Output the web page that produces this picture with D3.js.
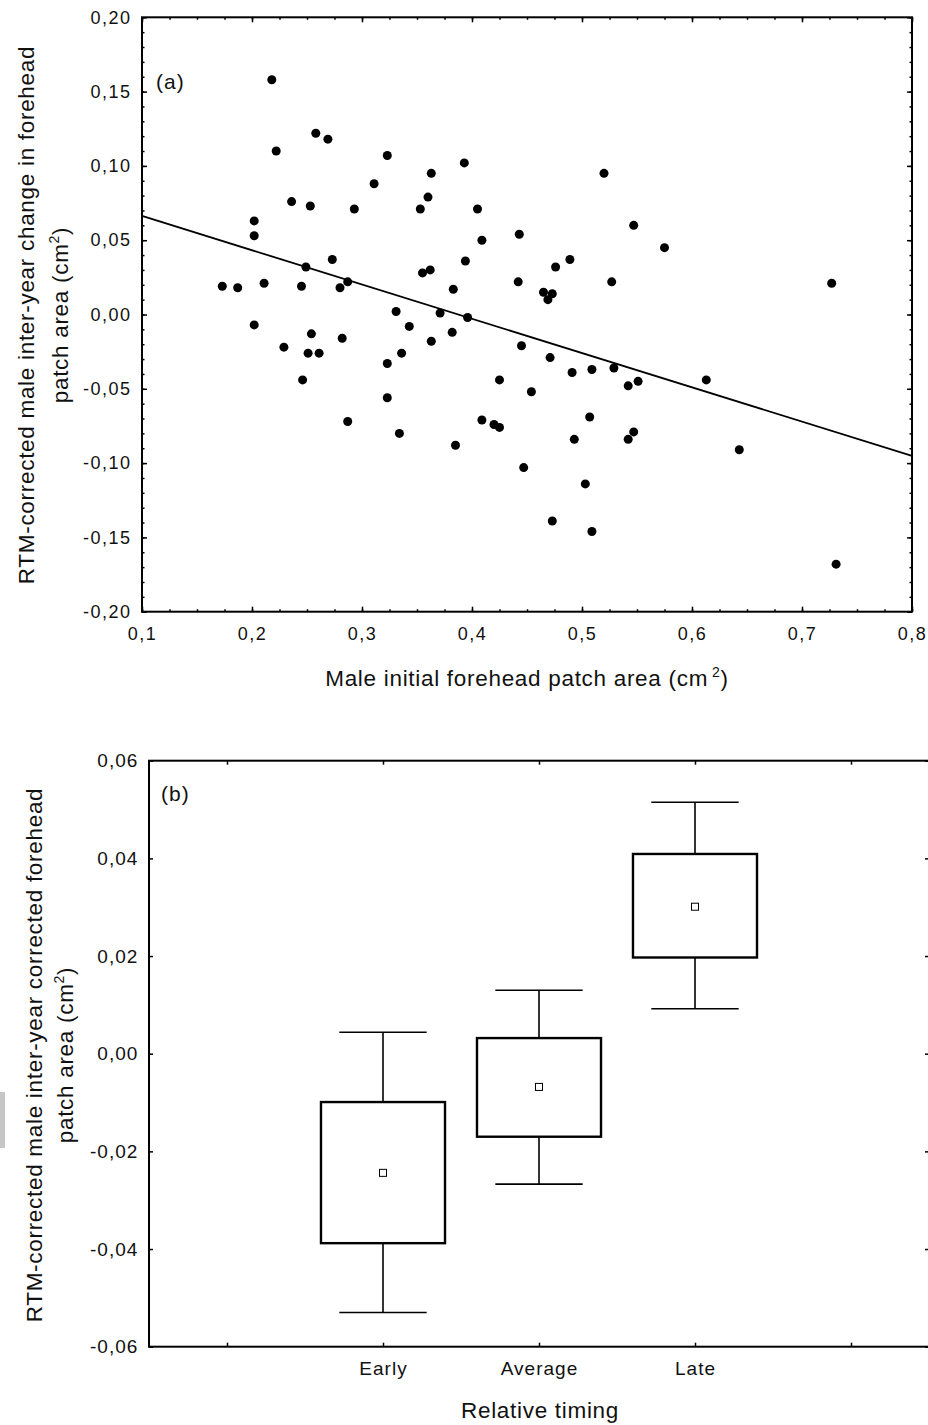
<!DOCTYPE html>
<html>
<head>
<meta charset="utf-8">
<script src="https://cdn.jsdelivr.net/npm/d3@7"></script>
<style>
  body { margin: 0; background: #fff; }
  svg { display: block; }
  text { font-family: "Liberation Sans", Arial, sans-serif; fill: #111; }
</style>
</head>
<body>
<div id="chart"></div>
<script>
// (a) initial forehead patch area vs RTM-corrected inter-year change
var patchArea = [
  0.218, 0.258, 0.222, 0.236, 0.253, 0.202, 0.202, 0.249, 0.173, 0.187,
  0.211, 0.245, 0.202, 0.254, 0.269, 0.323, 0.393, 0.363, 0.520, 0.311,
  0.360, 0.293, 0.353, 0.405, 0.409, 0.443, 0.273, 0.394, 0.489, 0.476,
  0.355, 0.362, 0.280, 0.287, 0.383, 0.442, 0.527, 0.465, 0.473, 0.469,
  0.331, 0.371, 0.396, 0.343, 0.382, 0.282, 0.363, 0.547, 0.575, 0.727,
  0.229, 0.251, 0.261, 0.246, 0.323, 0.336, 0.445, 0.471, 0.491, 0.509,
  0.529, 0.425, 0.454, 0.323, 0.287, 0.334, 0.409, 0.420, 0.425, 0.507,
  0.493, 0.385, 0.447, 0.503, 0.473, 0.509, 0.542, 0.551, 0.613, 0.547,
  0.542, 0.643, 0.731
];
var patchChange = [
  0.158, 0.122, 0.110, 0.076, 0.073, 0.063, 0.053, 0.032, 0.019, 0.018,
  0.021, 0.019, -0.007, -0.013, 0.118, 0.107, 0.102, 0.095, 0.095, 0.088,
  0.079, 0.071, 0.071, 0.071, 0.050, 0.054, 0.037, 0.036, 0.037, 0.032,
  0.028, 0.030, 0.018, 0.022, 0.017, 0.022, 0.022, 0.015, 0.014, 0.010,
  0.002, 0.001, -0.002, -0.008, -0.012, -0.016, -0.018, 0.060, 0.045, 0.021,
  -0.022, -0.026, -0.026, -0.044, -0.033, -0.026, -0.021, -0.029, -0.039, -0.037,
  -0.036, -0.044, -0.052, -0.056, -0.072, -0.080, -0.071, -0.074, -0.076, -0.069,
  -0.084, -0.088, -0.103, -0.114, -0.139, -0.146, -0.048, -0.045, -0.044, -0.079,
  -0.084, -0.091, -0.168
];
var fitIntercept = 0.0894;
var fitSlope = -0.2307;
var xTicksA = [0.1, 0.2, 0.3, 0.4, 0.5, 0.6, 0.7, 0.8];
var yTicksA = [-0.2, -0.15, -0.1, -0.05, 0, 0.05, 0.1, 0.15, 0.2];

// (b) relative timing groups
var timingLabels = ["", "Early", "Average", "Late", ""];
var groupSlot = [1, 2, 3];
var groupMean = [-0.0244, -0.0068, 0.0301];
var boxLow = [-0.0388, -0.0170, 0.0197];
var boxHigh = [-0.0099, 0.0032, 0.0409];
var whiskerLow = [-0.0530, -0.0267, 0.0092];
var whiskerHigh = [0.0044, 0.0130, 0.0515];
var yTicksB = [-0.06, -0.04, -0.02, 0, 0.02, 0.04, 0.06];

var locale = d3.formatLocale({ decimal: ",", thousands: ".", grouping: [3], currency: ["", ""], minus: "-" });
var fmt1 = locale.format(".1f");
var fmt2 = locale.format(".2f");

var svg = d3.select("#chart").append("svg")
  .attr("width", 928)
  .attr("height", 1425);

function styleAxis(g, size, spacing) {
  g.select(".domain").remove();
  g.selectAll("line").attr("stroke", "#000").attr("stroke-width", 1.5);
  g.selectAll("text")
    .style("font-size", size + "px")
    .style("letter-spacing", spacing + "px")
    .attr("fill", "#111");
}

// ---------- panel (a) ----------
var xA = d3.scaleLinear().domain([0.1, 0.8]).range([142, 912]);
var yA = d3.scaleLinear().domain([-0.2, 0.2]).range([611.7, 17.3]);
var minorX = d3.range(0.1, 0.8001, 0.025);
var minorY = d3.range(-0.2, 0.2001, 0.01);

svg.append("g").attr("transform", "translate(0,611.7)")
  .call(d3.axisBottom(xA).tickValues(minorX).tickSize(-2.5).tickFormat(""))
  .call(styleAxis, 16, 0);
svg.append("g").attr("transform", "translate(0,611.7)")
  .call(d3.axisBottom(xA).tickValues(xTicksA).tickSize(-5).tickPadding(15.5).tickFormat(fmt1))
  .call(styleAxis, 18, 1.5);
svg.append("g").attr("transform", "translate(0,17.3)")
  .call(d3.axisTop(xA).tickValues(minorX).tickSize(-2.5).tickFormat(""))
  .call(styleAxis, 16, 0);
svg.append("g").attr("transform", "translate(0,17.3)")
  .call(d3.axisTop(xA).tickValues(xTicksA).tickSize(-5).tickFormat(""))
  .call(styleAxis, 16, 0);

svg.append("g").attr("transform", "translate(142,0)")
  .call(d3.axisLeft(yA).tickValues(minorY).tickSize(-2.5).tickFormat(""))
  .call(styleAxis, 16, 0);
svg.append("g").attr("transform", "translate(142,0)")
  .call(d3.axisLeft(yA).tickValues(yTicksA).tickSize(-5).tickPadding(10.5).tickFormat(fmt2))
  .call(styleAxis, 18, 1.5);
svg.append("g").attr("transform", "translate(912,0)")
  .call(d3.axisRight(yA).tickValues(minorY).tickSize(-2.5).tickFormat(""))
  .call(styleAxis, 16, 0);
svg.append("g").attr("transform", "translate(912,0)")
  .call(d3.axisRight(yA).tickValues(yTicksA).tickSize(-5).tickFormat(""))
  .call(styleAxis, 16, 0);

svg.append("rect")
  .attr("x", xA(0.1)).attr("y", yA(0.2))
  .attr("width", xA(0.8) - xA(0.1)).attr("height", yA(-0.2) - yA(0.2))
  .attr("fill", "none").attr("stroke", "#000").attr("stroke-width", 2);

var fitLine = d3.line()
  .x(function (d) { return xA(d); })
  .y(function (d) { return yA(fitIntercept + fitSlope * d); });
svg.append("path")
  .datum(xA.domain())
  .attr("d", fitLine)
  .attr("fill", "none").attr("stroke", "#000").attr("stroke-width", 1.8);

svg.append("g").selectAll("circle")
  .data(patchArea)
  .enter().append("circle")
  .attr("cx", function (d) { return xA(d); })
  .attr("cy", function (d, i) { return yA(patchChange[i]); })
  .attr("r", 4.5)
  .attr("fill", "#000");

svg.append("text").attr("x", 156).attr("y", 89)
  .style("font-size", "21px").style("letter-spacing", "1px").text("(a)");

var titleA = svg.append("text")
  .attr("x", 527).attr("y", 686)
  .attr("text-anchor", "middle")
  .style("font-size", "22.5px").style("letter-spacing", "0.7px");
titleA.append("tspan").text("Male initial forehead patch area (cm");
titleA.append("tspan").attr("dx", 4).attr("dy", -9).style("font-size", "14px").text("2");
titleA.append("tspan").attr("dy", 9).text(")");

var yTitleA = svg.append("g").attr("transform", "translate(0,315) rotate(-90)");
yTitleA.append("text").attr("y", 34).attr("text-anchor", "middle")
  .style("font-size", "22.5px").style("letter-spacing", "0.7px")
  .text("RTM-corrected male inter-year change in forehead");
var yTitleA2 = yTitleA.append("text").attr("y", 67.5).attr("text-anchor", "middle")
  .style("font-size", "22.5px").style("letter-spacing", "0.7px");
yTitleA2.append("tspan").text("patch area (cm");
yTitleA2.append("tspan").attr("dy", -9).style("font-size", "14px").text("2");
yTitleA2.append("tspan").attr("dy", 9).text(")");

// ---------- panel (b) ----------
var xB = d3.scalePoint().domain(d3.range(timingLabels.length)).range([149, 929]).padding(0.5);
var yB = d3.scaleLinear().domain([-0.06, 0.06]).range([1346.7, 760.7]);
var step = xB.step();

svg.append("g").attr("transform", "translate(0,1346.7)")
  .call(d3.axisBottom(xB).tickSize(-4).tickPadding(14.8).tickFormat(function (i) { return timingLabels[i]; }))
  .call(styleAxis, 19, 1);
svg.append("g").attr("transform", "translate(0,760.7)")
  .call(d3.axisTop(xB).tickSize(-4).tickFormat(""))
  .call(styleAxis, 19, 0);
svg.append("g").attr("transform", "translate(149,0)")
  .call(d3.axisLeft(yB).tickValues(yTicksB).tickSize(-4).tickPadding(10.7).tickFormat(fmt2))
  .call(styleAxis, 19, 1);
svg.append("g").attr("transform", "translate(929,0)")
  .call(d3.axisRight(yB).tickValues(yTicksB).tickSize(-4).tickFormat(""))
  .call(styleAxis, 19, 0);

svg.append("rect")
  .attr("x", 149).attr("y", yB(0.06))
  .attr("width", 780).attr("height", yB(-0.06) - yB(0.06))
  .attr("fill", "none").attr("stroke", "#000").attr("stroke-width", 2);

var groups = svg.append("g").selectAll("g")
  .data(groupSlot)
  .enter().append("g");

groups.append("line")
  .attr("x1", function (d) { return xB(d); })
  .attr("x2", function (d) { return xB(d); })
  .attr("y1", function (d, i) { return yB(whiskerHigh[i]); })
  .attr("y2", function (d, i) { return yB(whiskerLow[i]); })
  .attr("stroke", "#000").attr("stroke-width", 1.6);
[whiskerHigh, whiskerLow].forEach(function (arr) {
  groups.append("line")
    .attr("x1", function (d) { return xB(d) - step * 0.28; })
    .attr("x2", function (d) { return xB(d) + step * 0.28; })
    .attr("y1", function (d, i) { return yB(arr[i]); })
    .attr("y2", function (d, i) { return yB(arr[i]); })
    .attr("stroke", "#000").attr("stroke-width", 1.6);
});
groups.append("rect")
  .attr("x", function (d) { return xB(d) - step * 0.3975; })
  .attr("width", step * 0.795)
  .attr("y", function (d, i) { return yB(boxHigh[i]); })
  .attr("height", function (d, i) { return yB(boxLow[i]) - yB(boxHigh[i]); })
  .attr("fill", "#fff").attr("stroke", "#000").attr("stroke-width", 2.4);
groups.append("rect")
  .attr("x", function (d) { return xB(d) - 3.5; })
  .attr("y", function (d, i) { return yB(groupMean[i]) - 3.5; })
  .attr("width", 7).attr("height", 7)
  .attr("fill", "#fff").attr("stroke", "#000").attr("stroke-width", 1);

svg.append("text").attr("x", 161).attr("y", 801)
  .style("font-size", "21px").style("letter-spacing", "1px").text("(b)");

svg.append("text")
  .attr("x", 540).attr("y", 1418)
  .attr("text-anchor", "middle")
  .style("font-size", "22.5px").style("letter-spacing", "0.7px")
  .text("Relative timing");

var yTitleB = svg.append("g").attr("transform", "translate(0,1055) rotate(-90)");
yTitleB.append("text").attr("y", 41.5).attr("text-anchor", "middle")
  .style("font-size", "22.5px").style("letter-spacing", "0.7px")
  .text("RTM-corrected male inter-year corrected forehead");
var yTitleB2 = yTitleB.append("text").attr("y", 73).attr("text-anchor", "middle")
  .style("font-size", "22.5px").style("letter-spacing", "0.7px");
yTitleB2.append("tspan").text("patch area (cm");
yTitleB2.append("tspan").attr("dy", -9).style("font-size", "14px").text("2");
yTitleB2.append("tspan").attr("dy", 9).text(")");

// scan artefact at the left edge
svg.append("rect").attr("x", 0).attr("y", 1092).attr("width", 5).attr("height", 56).attr("fill", "#c6c6c6");
</script>
</body>
</html>
